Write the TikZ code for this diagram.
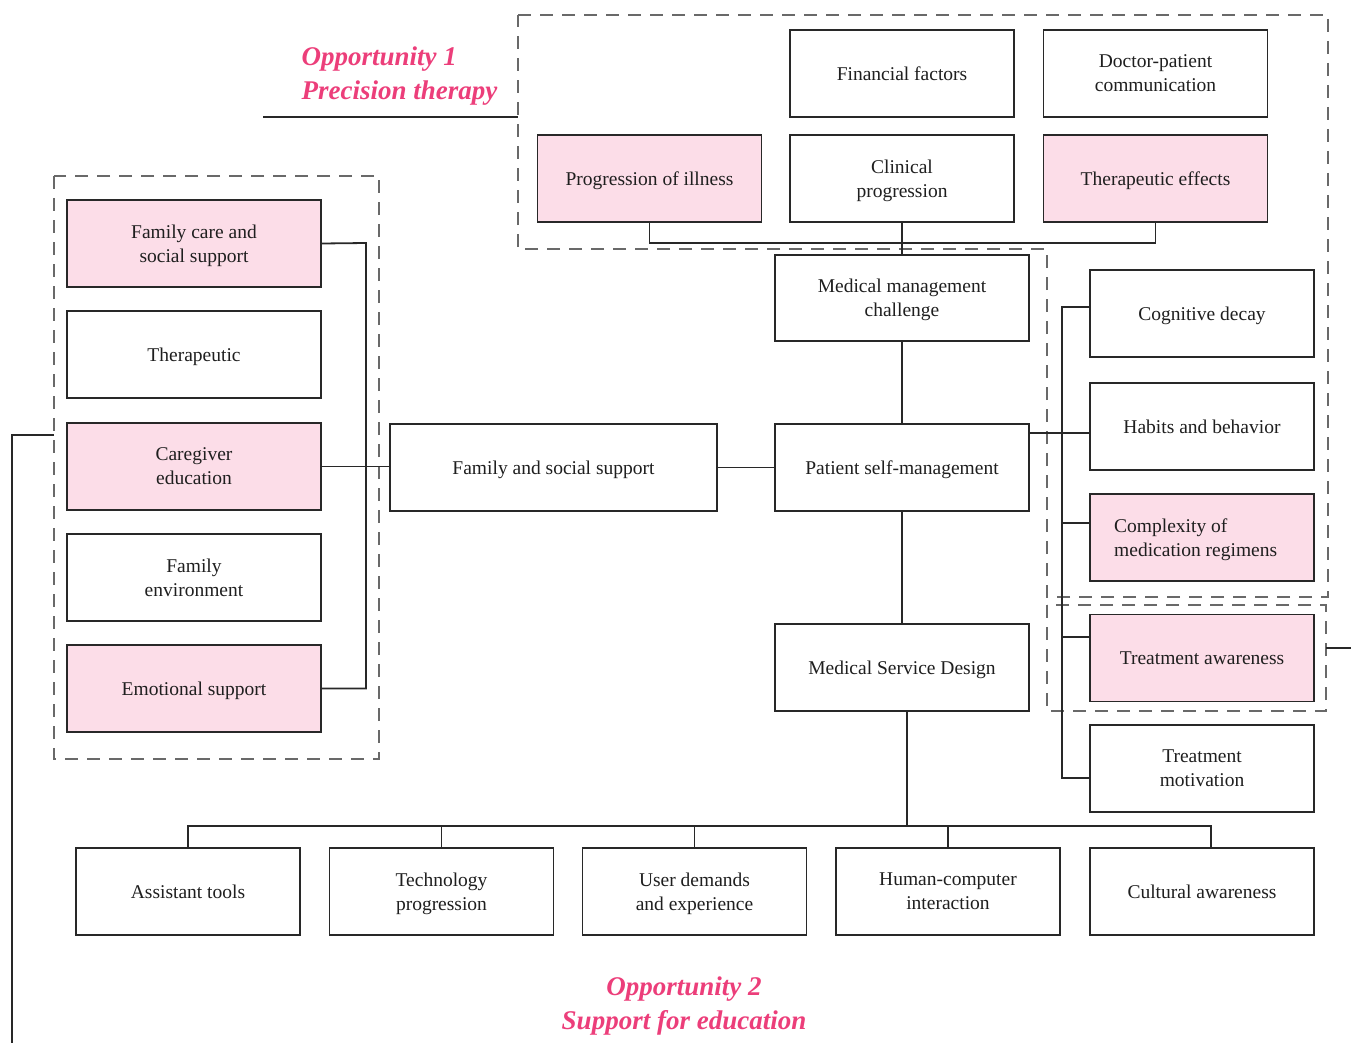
\documentclass[tikz,border=0pt]{standalone}
\usepackage{fontspec}
\setmainfont{Liberation Serif}
\definecolor{pinkfill}{RGB}{252,221,232}
\definecolor{oppcol}{RGB}{236,62,122}
\definecolor{linecol}{RGB}{40,40,40}
\definecolor{dashcol}{RGB}{105,105,105}
\begin{document}
\begin{tikzpicture}[x=1pt,y=-1pt,
  box/.style={draw=linecol,line width=1.8pt,fill=white,inner sep=2pt,align=center,
     font=\fontsize{19.5}{24}\selectfont,text=black!88,text depth=0pt},
  pbox/.style={box,fill=pinkfill},
  lbw/.style={minimum width=254pt,minimum height=87pt},
  rbw/.style={minimum width=224pt,minimum height=87pt},
  conn/.style={draw=linecol,line width=1.8pt},
  region/.style={draw=dashcol,line width=1.6pt,dash pattern=on 13pt off 9pt},
  opp/.style={text=oppcol,font=\fontsize{27}{34}\selectfont\bfseries\itshape}]
\useasboundingbox (0,0) rectangle (1351,1043);
% dashed regions
\draw[region] (518,15) -- (1328,15) -- (1328,597) -- (1047,597) -- (1047,249) -- (518,249) -- cycle;
\draw[region] (1047,605) rectangle (1326,711);
\draw[region] (54,176) rectangle (379,759);
% top group
\node[box,rbw] (fin) at (902,73.5) {Financial factors};
\node[box,rbw] (doc) at (1155.5,73.5) {Doctor-patient\\communication};
\node[pbox,rbw] (prog) at (649.5,178.5) {Progression of illness};
\node[box,rbw] (clin) at (902,178.5) {Clinical\\progression};
\node[pbox,rbw] (ther) at (1155.5,178.5) {Therapeutic effects};
% centre column
\node[box,lbw,minimum height=86pt] (mmc) at (902,298) {Medical management\\challenge};
\node[box,lbw] (psm) at (902,467.5) {Patient self-management};
\node[box,lbw] (msd) at (902,667.5) {Medical Service Design};
\node[box,minimum width=327pt,minimum height=87pt] (fss) at (553.5,467.5) {Family and social support};
% left group
\node[pbox,lbw] (fc) at (194,243.5) {Family care and\\social support};
\node[box,lbw] (thp) at (194,354.5) {Therapeutic};
\node[pbox,lbw] (cg) at (194,466.5) {Caregiver\\education};
\node[box,lbw] (fe) at (194,577.5) {Family\\environment};
\node[pbox,lbw] (es) at (194,688.5) {Emotional support};
% right group
\node[box,rbw] (cog) at (1202,313.5) {Cognitive decay};
\node[box,rbw] (hab) at (1202,426.5) {Habits and behavior};
\node[pbox,rbw,align=left] (cmp) at (1202,537.5) {Complexity of\hspace*{3.2em}\\medication regimens};
\node[pbox,rbw] (awa) at (1202,658) {Treatment awareness};
\node[box,rbw] (mot) at (1202,768.5) {Treatment\\motivation};
% bottom row
\node[box,rbw] (at) at (188,891.5) {Assistant tools};
\node[box,rbw] (tech) at (441.5,891.5) {Technology\\progression};
\node[box,rbw] (user) at (694.5,891.5) {User demands\\and experience};
\node[box,rbw] (hci) at (948,891.5) {Human-computer\\interaction};
\node[box,rbw] (cult) at (1202,891.5) {Cultural awareness};
% labels
\node[opp,align=left,anchor=west] (op1) at (298,76) {Opportunity 1\\Precision therapy};
\node[opp,align=center] (op2) at (684,1006) {Opportunity 2\\Support for education};
% coordinates
\coordinate (tb) at (902,243);
\coordinate (lb) at (366,243);
\coordinate (mb) at (907,826);
\coordinate (busL) at (188,826);
\coordinate (busR) at (1211,826);
\coordinate (rb1) at (1062,307);
\coordinate (rb2) at (1062,433);
\coordinate (rb3) at (1062,523);
\coordinate (rb4) at (1062,637);
\coordinate (rb5) at (1062,778);
\coordinate (o1a) at (263,117);
\coordinate (o1b) at (518,117);
\coordinate (lla) at (54,435);
\coordinate (llb) at (12,435);
\coordinate (llc) at (12,1043);
\coordinate (rra) at (1326,648);
\coordinate (rrb) at (1351,648);
% connectors top
\draw[conn] (prog.south) |- (tb) -| (ther.south);
\draw[conn] (clin.south) -- (mmc.north);
\draw[conn] (mmc.south) -- (psm.north);
\draw[conn] (psm.south) -- (msd.north);
\draw[conn] (fss.east) -- (psm.west);
% left
\draw[conn] (fc.east) -- (lb) |- (es.east);
\draw[conn] (cg.east) -- (cg.east -| fss.west);
% right
\draw[conn] (cog.west |- rb1) -- (rb1) -- (rb5) -- (mot.west |- rb5);
\draw[conn] (psm.east |- rb2) -- (hab.west |- rb2);
\draw[conn] (rb3) -- (cmp.west |- rb3);
\draw[conn] (rb4) -- (awa.west |- rb4);
% bottom
\draw[conn] (msd.south -| mb) -- (mb);
\draw[conn] (at.north) -- (busL) -- (busR) -- (cult.north -| busR);
\draw[conn] (tech.north) -- (tech.north |- busL);
\draw[conn] (user.north) -- (user.north |- busL);
\draw[conn] (hci.north) -- (hci.north |- busL);
% free lines
\draw[conn] (o1a) -- (o1b);
\draw[conn] (lla) -- (llb) -- (llc);
\draw[conn] (rra) -- (rrb);
\end{tikzpicture}
\end{document}
